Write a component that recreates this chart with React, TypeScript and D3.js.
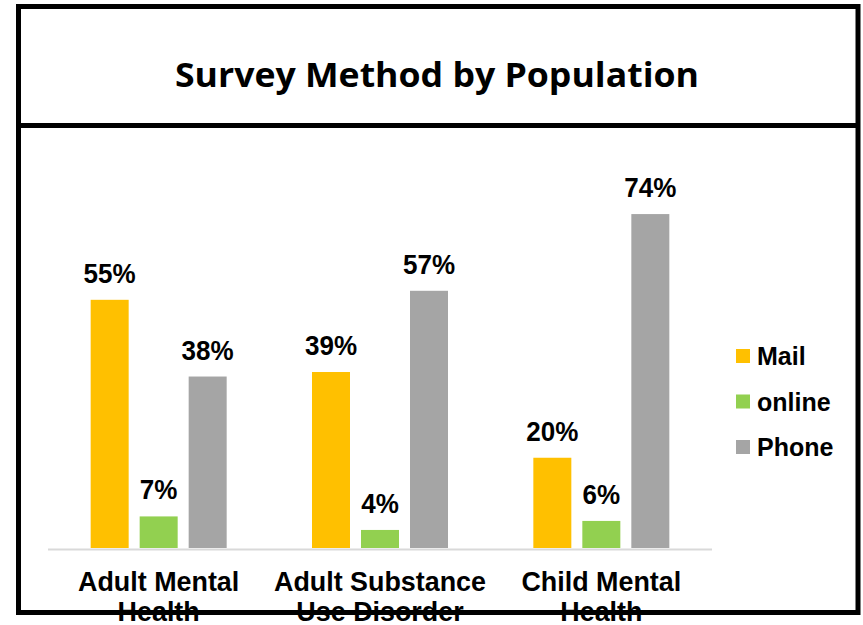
import React from "react";
import * as d3 from "d3";

const categories = [["Adult Mental", "Health"], ["Adult Substance", "Use Disorder"], ["Child Mental", "Health"]];
const series = ["Mail", "online", "Phone"];
const mailValues = [55, 39, 20];
const onlineValues = [7, 4, 6];
const phoneValues = [38, 57, 74];
const colors = ["#FFC000", "#92D050", "#A5A5A5"];
const title = "Survey Method by Population";

const W = 863;
const H = 625;

export default function App() {
  const values = [mailValues, onlineValues, phoneValues];
  const catKeys = categories.map((c) => c.join(" "));
  const x0 = d3.scaleBand<string>().domain(catKeys).range([48, 712]).paddingInner(0).paddingOuter(0);
  const groupW = 136;
  const x1 = d3.scaleBand<string>().domain(series).range([0, groupW]).paddingInner(11 / 49).paddingOuter(0);
  const y = d3.scaleLinear().domain([0, 80]).range([548, 187]);
  const font = "'Liberation Sans', Arial, sans-serif";

  return (
    <svg width={W} height={H} style={{ position: "absolute", left: 0, top: 0, background: "#fff" }}>
      <rect x={0} y={0} width={W} height={H} fill="#fff" />
      <text
        x={437}
        y={87}
        textAnchor="middle"
        fontFamily="'Open Sans', Lato, sans-serif"
        fontWeight={700}
        fontSize={34}
        textLength={524}
        lengthAdjust="spacingAndGlyphs"
        fill="#000"
      >
        {title}
      </text>
      <line x1={48} x2={712} y1={549.5} y2={549.5} stroke="#d9d9d9" strokeWidth={2} />
      {catKeys.map((ck, ci) => {
        const gx = (x0(ck) as number) + (x0.bandwidth() - groupW) / 2;
        return (
          <g key={ck}>
            {series.map((s, si) => {
              const v = values[si][ci];
              const bx = gx + (x1(s) as number);
              const bw = x1.bandwidth();
              return (
                <g key={s}>
                  <rect x={bx} y={y(v)} width={bw} height={y(0) - y(v)} fill={colors[si]} />
                  <text
                    transform={`translate(${bx + bw / 2},${y(v) - 17}) scale(0.93,1)`}
                    textAnchor="middle"
                    fontFamily={font}
                    fontWeight={700}
                    fontSize={28}
                    fill="#000"
                  >
                    {v}%
                  </text>
                </g>
              );
            })}
            {categories[ci].map((line, li) => (
              <text
                key={li}
                transform={`translate(${(x0(ck) as number) + x0.bandwidth() / 2},${591 + li * 30}) scale(0.96,1)`}
                textAnchor="middle"
                fontFamily={font}
                fontWeight={700}
                fontSize={28}
                fill="#000"
              >
                {line}
              </text>
            ))}
          </g>
        );
      })}
      {series.map((s, si) => (
        <g key={s} transform={`translate(736,${349 + si * 45.5})`}>
          <rect x={0} y={0} width={14} height={14} fill={colors[si]} />
          <text x={21} y={16} fontFamily={font} fontWeight={700} fontSize={25} fill="#000">
            {s}
          </text>
        </g>
      ))}
      <rect x={18.5} y={6.5} width={839.5} height={606} fill="none" stroke="#000" strokeWidth={5} />
      <line x1={16} x2={860} y1={125.5} y2={125.5} stroke="#000" strokeWidth={5} />
    </svg>
  );
}
